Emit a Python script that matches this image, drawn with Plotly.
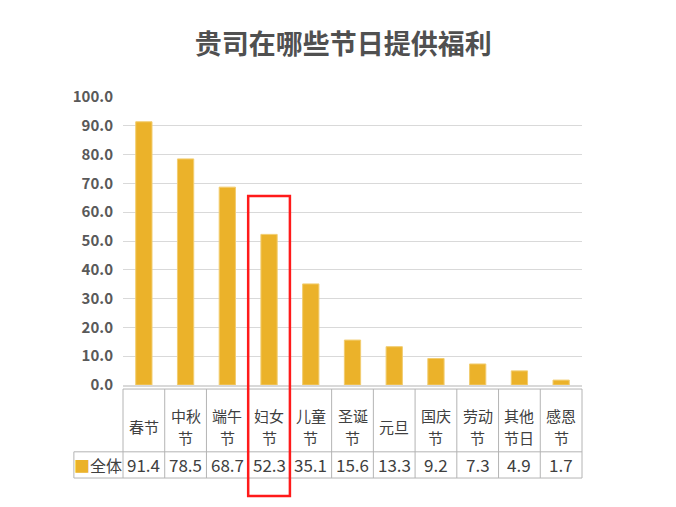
import plotly.graph_objects as go

# data
festivals = ["春节", "中秋节", "端午节", "妇女节", "儿童节", "圣诞节",
             "元旦", "国庆节", "劳动节", "其他节日", "感恩节"]
# header cell text, split into the lines shown in the table
header_lines = [["春节"], ["中秋", "节"], ["端午", "节"], ["妇女", "节"], ["儿童", "节"],
                ["圣诞", "节"], ["元旦"], ["国庆", "节"], ["劳动", "节"], ["其他", "节日"],
                ["感恩", "节"]]
share_all = [91.4, 78.5, 68.7, 52.3, 35.1, 15.6, 13.3, 9.2, 7.3, 4.9, 1.7]
series_name = "全体"
highlight = "妇女节"
y_ticks = [0, 10, 20, 30, 40, 50, 60, 70, 80, 90, 100]

BAR_COLOR = "#EBB22A"
TEXT_COLOR = "#404040"
GRID_COLOR = "#D9D9D9"
TABLE_LINE = "#B4B4B4"
FONT = "Noto Sans CJK SC"

# table rows in paper units (below the plot area)
TABLE_TOP = -0.014
ROW_SPLIT = -0.232
TABLE_BOTTOM = -0.323
LABEL_LEFT = -0.107
HEAD_MID = -0.144
HEAD_STEP = 0.076

fig = go.Figure()
fig.add_trace(go.Bar(
    x=festivals, y=share_all, name=series_name,
    marker=dict(color=BAR_COLOR, line=dict(color="#F2CD70", width=1)),
    hoverinfo="x+y",
))

annotations = []
shapes = []

# header row + value row
for i, (fest, lines, val) in enumerate(zip(festivals, header_lines, share_all)):
    n = len(lines)
    for k, line in enumerate(lines):
        annotations.append(dict(
            x=fest, xref="x", y=HEAD_MID + ((n - 1) / 2 - k) * HEAD_STEP, yref="paper",
            text=line, showarrow=False, yanchor="middle", xanchor="center",
            borderpad=0,
            font=dict(size=15, color=TEXT_COLOR, family=FONT),
        ))
    annotations.append(dict(
        x=fest, xref="x", y=(ROW_SPLIT + TABLE_BOTTOM) / 2, yref="paper",
        text=f"{val:.1f}", showarrow=False, yanchor="middle", xanchor="center",
        font=dict(size=17, color=TEXT_COLOR, family=FONT),
    ))
    if i > 0:
        shapes.append(dict(type="line", xref="x", yref="paper",
                           x0=i - 0.5, x1=i - 0.5, y0=TABLE_BOTTOM, y1=TABLE_TOP,
                           line=dict(color=TABLE_LINE, width=1)))

# series label cell
annotations.append(dict(
    x=LABEL_LEFT / 2, xref="paper", y=(ROW_SPLIT + TABLE_BOTTOM) / 2, yref="paper",
    text=f"<span style='color:{BAR_COLOR}'>■</span>{series_name}",
    showarrow=False, yanchor="middle", xanchor="center",
    font=dict(size=16, color=TEXT_COLOR, family=FONT),
))

# table frame
shapes += [
    dict(type="line", xref="paper", yref="paper", x0=0, x1=1,
         y0=TABLE_TOP, y1=TABLE_TOP, line=dict(color=TABLE_LINE, width=1)),
    dict(type="line", xref="paper", yref="paper", x0=LABEL_LEFT, x1=1,
         y0=ROW_SPLIT, y1=ROW_SPLIT, line=dict(color=TABLE_LINE, width=1)),
    dict(type="line", xref="paper", yref="paper", x0=LABEL_LEFT, x1=1,
         y0=TABLE_BOTTOM, y1=TABLE_BOTTOM, line=dict(color=TABLE_LINE, width=1)),
    dict(type="line", xref="paper", yref="paper", x0=LABEL_LEFT, x1=LABEL_LEFT,
         y0=TABLE_BOTTOM, y1=ROW_SPLIT, line=dict(color=TABLE_LINE, width=1)),
    dict(type="line", xref="paper", yref="paper", x0=0, x1=0,
         y0=TABLE_BOTTOM, y1=TABLE_TOP, line=dict(color=TABLE_LINE, width=1)),
    dict(type="line", xref="paper", yref="paper", x0=1, x1=1,
         y0=TABLE_BOTTOM, y1=TABLE_TOP, line=dict(color=TABLE_LINE, width=1)),
]

# red highlight box around one festival
hi = festivals.index(highlight)
shapes.append(dict(type="rect", xref="x", yref="paper",
                   x0=hi - 0.5, x1=hi + 0.5, y0=-0.385, y1=0.656,
                   line=dict(color="#FF1A1A", width=2.5)))

# page body has an 8px margin, so the figure is sized to fit inside it
fig.update_layout(
    width=660, height=491,
    margin=dict(l=115, r=86, t=89, b=114),
    paper_bgcolor="white", plot_bgcolor="white",
    title=dict(text="<b>贵司在哪些节日提供福利</b>", x=0.508, xanchor="center",
               y=0.925, yanchor="middle",
               font=dict(size=27, color="#505050", family=FONT)),
    bargap=0.61,
    showlegend=False,
    font=dict(family=FONT, color=TEXT_COLOR),
    annotations=annotations,
    shapes=shapes,
)
fig.update_xaxes(showticklabels=False, showgrid=False, ticks="",
                 range=[-0.5, len(festivals) - 0.5],
                 showline=True, linecolor=GRID_COLOR, linewidth=2)
fig.update_yaxes(range=[0, 100], tickvals=y_ticks, tickformat=".1f",
                 showgrid=True, gridcolor=GRID_COLOR, gridwidth=1,
                 zeroline=False, ticks="", ticklabelstandoff=9,
                 tickfont=dict(size=15, color="#595959", family=FONT, weight="bold"))

fig.write_html("out.html")
